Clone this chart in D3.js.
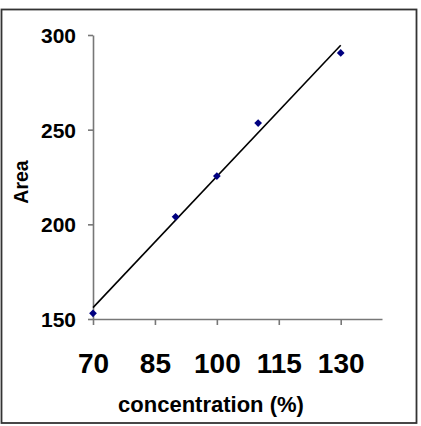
<!DOCTYPE html>
<html>
<head>
<meta charset="utf-8">
<script src="https://cdn.jsdelivr.net/npm/d3@7"></script>
<style>
  body { margin: 0; background: #fff; }
  text { font-family: "Liberation Sans", Arial, sans-serif; font-weight: bold; fill: #000; }
</style>
</head>
<body>
<svg id="chart" width="421" height="426"></svg>
<script>
// data
const concentration = [70, 90, 100, 110, 130];
const area = [153, 204, 225.5, 253.5, 290.5];
const x_ticks = [70, 85, 100, 115, 130];
const y_ticks = [150, 200, 250, 300];

const svg = d3.select("#chart");

// outer frame
svg.append("rect")
  .attr("x", 1.5).attr("y", 9.5)
  .attr("width", 415).attr("height", 413.5)
  .attr("fill", "none")
  .attr("stroke", "#333")
  .attr("stroke-width", 1.8);

// scales
const x_scale = d3.scaleLinear().domain([70, 140]).range([93, 382]);
const y_scale = d3.scaleLinear().domain([150, 300]).range([319, 35]);

// y axis
const y_axis = svg.append("g")
  .attr("transform", "translate(93,0)")
  .call(d3.axisLeft(y_scale).tickValues(y_ticks).tickSize(5).tickPadding(12).tickSizeOuter(0));
y_axis.select(".domain").attr("stroke", "#777").attr("stroke-width", 1.6);
y_axis.selectAll(".tick line").attr("stroke", "#777").attr("stroke-width", 1.6);
y_axis.selectAll(".tick text")
  .style("font-size", "21px")
  .attr("dy", "0.36em");

// x axis
const x_axis = svg.append("g")
  .attr("transform", "translate(0,319)")
  .call(d3.axisBottom(x_scale).tickValues(x_ticks).tickSize(6).tickPadding(48).tickSizeOuter(0));
x_axis.select(".domain").attr("stroke", "#777").attr("stroke-width", 1.6);
x_axis.selectAll(".tick line").attr("stroke", "#777").attr("stroke-width", 1.6);
x_axis.selectAll(".tick text")
  .style("font-size", "28px")
  .attr("dy", "0");

// axis titles
svg.append("text")
  .attr("x", 211).attr("y", 412)
  .attr("text-anchor", "middle")
  .style("font-size", "22px")
  .text("concentration (%)");

svg.append("text")
  .attr("transform", "translate(28,182) rotate(-90)")
  .attr("text-anchor", "middle")
  .style("font-size", "19.5px")
  .text("Area");

// linear trend line (least squares)
const pts = concentration.map((c, i) => ({ x: c, y: area[i] }));
const mx = d3.mean(pts, d => d.x);
const my = d3.mean(pts, d => d.y);
const slope = d3.sum(pts, d => (d.x - mx) * (d.y - my)) / d3.sum(pts, d => (d.x - mx) ** 2);
const icpt = my - slope * mx;
const x_ext = d3.extent(concentration);

svg.append("line")
  .attr("x1", x_scale(x_ext[0])).attr("y1", y_scale(icpt + slope * x_ext[0]))
  .attr("x2", x_scale(x_ext[1])).attr("y2", y_scale(icpt + slope * x_ext[1]))
  .attr("stroke", "#000")
  .attr("stroke-width", 1.6);

// data points (diamonds)
svg.append("g")
  .selectAll(null)
  .data(pts)
  .enter()
  .append("path")
  .attr("d", d3.symbol().type(d3.symbolSquare).size(30))
  .attr("transform", d => "translate(" + x_scale(d.x) + "," + y_scale(d.y) + ") rotate(45)")
  .attr("fill", "#000080");
</script>
</body>
</html>
